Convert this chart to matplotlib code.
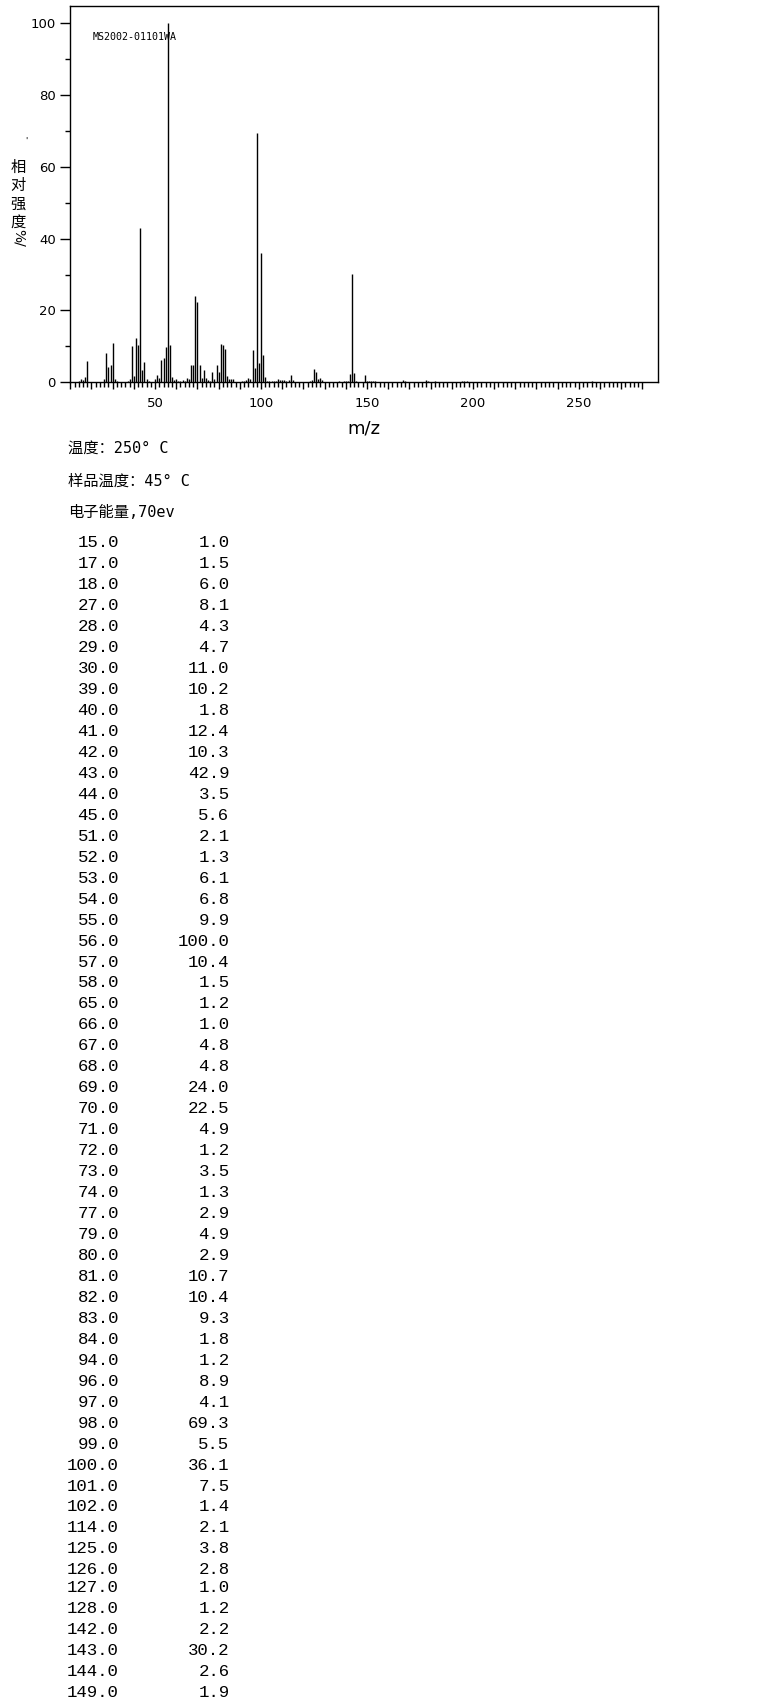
import matplotlib
matplotlib.use('Agg')
import matplotlib.pyplot as plt
from matplotlib.ticker import FixedLocator, FuncFormatter

# ---- data ----
table_mz = [15, 17, 18, 27, 28, 29, 30, 39, 40, 41, 42, 43, 44, 45,
            51, 52, 53, 54, 55, 56, 57, 58, 65, 66, 67, 68, 69, 70, 71, 72,
            73, 74, 77, 79, 80, 81, 82, 83, 84, 94, 96, 97, 98, 99, 100,
            101, 102, 114, 125, 126, 127, 128, 142, 143, 144, 149]
table_int = [1.0, 1.5, 6.0, 8.1, 4.3, 4.7, 11.0, 10.2, 1.8, 12.4, 10.3, 42.9, 3.5, 5.6,
             2.1, 1.3, 6.1, 6.8, 9.9, 100.0, 10.4, 1.5, 1.2, 1.0, 4.8, 4.8, 24.0, 22.5, 4.9, 1.2,
             3.5, 1.3, 2.9, 4.9, 2.9, 10.7, 10.4, 9.3, 1.8, 1.2, 8.9, 4.1, 69.3, 5.5, 36.1,
             7.5, 1.4, 2.1, 3.8, 2.8, 1.0, 1.2, 2.2, 30.2, 2.6, 1.9]

# small peaks visible in the spectrum but not listed in the table
minor_mz = [14, 16, 26, 31, 32, 37, 38, 46, 47, 50, 59, 60, 61, 62, 63, 64, 75, 76, 78,
            85, 86, 87, 91, 92, 93, 95, 103, 104, 105, 106, 107, 108, 109, 110, 111, 112,
            113, 115, 123, 124, 129, 137, 139, 140, 141, 145, 150, 151, 152, 153, 154,
            167, 168, 178, 179, 182, 195, 196, 197, 256]
minor_int = [0.5, 0.6, 0.9, 0.9, 0.5, 0.5, 0.9, 0.8, 0.5, 0.9, 0.6, 0.9, 0.4, 0.4, 0.6, 0.4, 0.6, 0.4, 0.9,
             0.9, 0.9, 0.9, 0.4, 0.4, 0.6, 0.9, 0.4, 0.4, 0.3, 0.4, 0.4, 0.9, 0.6, 0.6, 0.6, 0.4,
             0.6, 0.6, 0.4, 0.6, 0.6, 0.4, 0.4, 0.4, 0.4, 0.4, 0.4, 0.4, 0.4, 0.4, 0.4,
             0.6, 0.4, 0.6, 0.4, 0.4, 0.4, 0.4, 0.4, 0.3]

x_tick_labels = [50, 100, 150, 200, 250]
y_tick_labels = [0, 20, 40, 60, 80, 100]
watermark = "MS2002-01101WA"
ylabel_chars = ["相", "对", "强", "度"]
ylabel_unit = "%/"
xlabel = "m/z"
header_lines = ["温度：250° C", "样品温度：45° C", "电子能量,70ev"]

# ---- figure ----
W, H = 765, 1701
fig = plt.figure(figsize=(W / 100, H / 100), dpi=100)
fig.patch.set_facecolor('white')


def fx(px):
    return px / W


def fy(py):
    return 1 - py / H


ax = fig.add_axes([fx(70.3), fy(382.3), fx(658.3) - fx(70.3), fy(6) - fy(382.3)])
all_mz = table_mz + minor_mz
all_int = table_int + minor_int
ax.vlines(all_mz, 0, all_int, colors='black', lw=1.0)
ax.set_xlim(10, 287.5)
ax.set_ylim(0, 104.8)

ax.xaxis.set_major_locator(FixedLocator(list(range(10, 281, 10))))
ax.xaxis.set_minor_locator(FixedLocator(list(range(10, 281, 2))))
ax.xaxis.set_major_formatter(FuncFormatter(
    lambda v, p: f'{int(round(v))}' if int(round(v)) in x_tick_labels else ''))
ax.yaxis.set_major_locator(FixedLocator(y_tick_labels))
ax.yaxis.set_minor_locator(FixedLocator(list(range(10, 101, 20))))
ax.yaxis.set_major_formatter(FuncFormatter(lambda v, p: f'{int(round(v))}'))

ax.tick_params(axis='x', which='major', direction='out', length=5.0, width=1.0,
               pad=5.5, labelsize=9.5)
ax.tick_params(axis='x', which='minor', direction='out', length=3.3, width=1.0)
ax.tick_params(axis='y', which='major', direction='out', length=7.2, width=1.0,
               pad=3.2, labelsize=9.5)
ax.tick_params(axis='y', which='minor', direction='out', length=3.6, width=1.0)
for s in ax.spines.values():
    s.set_linewidth(1.0)
    s.set_color('black')

ax.text(fx(92.7 - 70.3) / (fx(658.3) - fx(70.3)), 1 - (36.5 - 6) / (382.3 - 6), watermark,
        transform=ax.transAxes, ha='left', va='center',
        family='DejaVu Sans Mono', fontsize=7.2)

# y label (vertical CJK text)
cjk = ['Noto Sans CJK SC', 'DejaVu Sans']
fig.text(fx(26.5), fy(141), "'", fontsize=6, ha='center', va='center', family='DejaVu Sans')
for ch, yc in zip(ylabel_chars, [166.0, 184.5, 203.0, 221.0]):
    fig.text(fx(18.3), fy(yc + 5.8), ch, fontsize=11, ha='center', va='baseline', family=cjk)
fig.text(fx(18.3), fy(238), ylabel_unit, fontsize=10, ha='center', va='center',
         rotation=-90, family='DejaVu Sans')

fig.text(fx(364), fy(428.5), xlabel, fontsize=13, ha='center', va='center',
         family='DejaVu Sans')

# header text
head_font = ['DejaVu Sans Mono', 'Noto Sans CJK SC']
for line, yb in zip(header_lines, [452.3, 485.7, 516.7]):
    fig.text(fx(68.3), fy(yb), line, fontsize=11, ha='left', va='baseline', family=head_font)

# peak table
for i, (m, v) in enumerate(zip(table_mz, table_int)):
    yc = 542 + i * 20.96 + (-3.6 if i >= 50 else 0)
    yb = yc + 5.3
    fig.text(fx(119), fy(yb), f'{m:.1f}', fontsize=12.5, ha='right', va='baseline',
             family='Liberation Mono')
    fig.text(fx(229.5), fy(yb), f'{v:.1f}', fontsize=12.5, ha='right', va='baseline',
             family='Liberation Mono')

fig.savefig('out.png', dpi=100, facecolor='white')
